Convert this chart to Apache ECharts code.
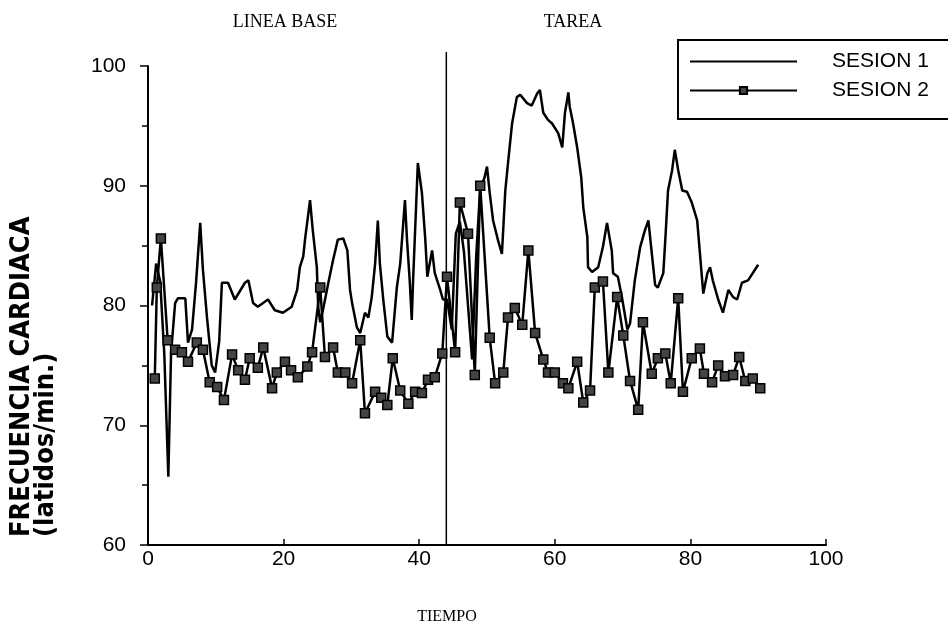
<!DOCTYPE html>
<html>
<head>
<meta charset="utf-8">
<script src="https://cdn.jsdelivr.net/npm/echarts@6/dist/echarts.min.js"></script>
<style>
  html, body { margin: 0; background: #fff; }
  #chart { width: 948px; height: 627px; }
</style>
</head>
<body>
<div id="chart"></div>
<script>
// [tiempo, latidos/min]
const sesion1 = [
  [0.6,80.0],[1.2,83.5],[1.8,82.0],[2.4,76.0],[3.0,65.7],[3.4,76.0],[4.0,80.2],[4.4,80.6],[5.5,80.6],[5.9,76.9],
  [6.5,78.0],[7.1,82.0],[7.7,86.9],[8.1,83.0],[8.7,79.0],[9.4,75.0],[9.9,74.4],[10.5,77.0],[10.9,81.9],[11.8,81.9],
  [12.8,80.5],[14.3,81.9],[14.8,82.1],[15.5,80.2],[16.2,79.9],[17.7,80.5],[18.7,79.6],[19.9,79.4],[21.2,79.9],[22.0,81.3],
  [22.4,83.2],[22.9,84.1],[23.2,85.7],[23.9,88.8],[24.3,86.3],[24.9,83.2],[25.1,79.9],[25.4,78.6],[25.8,79.6],[26.6,81.9],
  [27.3,83.8],[28.0,85.5],[28.8,85.6],[29.4,84.6],[29.8,81.3],[30.1,80.2],[30.8,78.2],[31.3,77.7],[32.0,79.4],[32.5,79.0],
  [33.0,80.7],[33.5,83.5],[33.9,87.1],[34.2,83.5],[34.7,80.5],[35.3,77.4],[36.0,76.9],[36.7,81.5],[37.2,83.5],[37.9,88.8],
  [38.2,85.5],[38.6,82.1],[38.9,78.8],[39.1,82.1],[39.4,86.3],[39.8,91.9],[40.4,89.4],[40.9,85.5],[41.2,82.4],[41.9,84.6],
  [42.3,82.7],[43.1,81.3],[43.5,80.5],[44.1,80.5],[44.8,78.0],[45.4,86.0],[46.0,87.0],[46.6,84.5],[47.2,80.0],[47.8,75.5],
  [48.4,84.0],[49.0,89.9],[49.6,90.6],[50.0,91.6],[50.4,89.4],[50.9,87.1],[51.6,85.5],[52.2,84.3],[52.7,89.6],[53.1,91.9],
  [53.7,95.2],[54.4,97.4],[54.9,97.6],[55.9,96.9],[56.6,96.7],[57.4,97.7],[57.8,98.0],[58.3,96.1],[59.0,95.5],[59.6,95.2],
  [60.5,94.4],[61.1,93.2],[61.5,96.1],[62.0,97.8],[62.2,96.6],[62.7,95.2],[63.3,93.2],[63.9,90.7],[64.2,88.2],[64.8,85.7],
  [64.9,83.2],[65.5,82.8],[66.4,83.2],[67.1,84.9],[67.7,86.9],[68.4,84.6],[68.6,82.7],[69.3,82.4],[69.9,80.7],[70.7,78.0],
  [71.1,78.5],[71.8,82.1],[72.6,84.9],[73.3,86.3],[73.8,87.1],[74.3,84.4],[74.8,81.7],[75.2,81.5],[76.0,82.7],[76.3,85.5],
  [76.7,89.6],[77.3,91.3],[77.7,93.0],[78.2,91.3],[78.8,89.6],[79.5,89.5],[80.2,88.6],[81.0,87.1],[81.4,84.4],[81.9,81.0],
  [82.5,82.7],[82.9,83.2],[83.3,82.1],[84.1,80.5],[84.8,79.4],[85.6,81.3],[86.3,80.7],[86.9,80.5],[87.6,81.9],[88.5,82.1],
  [90.0,83.4]
]
const sesion2 = [
  [1.0,73.9],[1.3,81.5],[1.9,85.6],[2.9,77.1],[4.0,76.3],[5.0,76.1],[5.9,75.3],[7.2,76.9],[8.1,76.3],[9.1,73.6],
  [10.2,73.2],[11.2,72.1],[12.4,75.9],[13.3,74.6],[14.3,73.8],[15.0,75.6],[16.2,74.8],[17.0,76.5],[18.3,73.1],[19.0,74.4],
  [20.2,75.3],[21.1,74.6],[22.1,74.0],[23.5,74.9],[24.2,76.1],[25.4,81.5],[26.1,75.7],[27.3,76.5],[28.0,74.4],[29.1,74.4],
  [30.1,73.5],[31.3,77.1],[32.0,71.0],[33.5,72.8],[34.4,72.3],[35.3,71.7],[36.1,75.6],[37.2,72.9],[38.4,71.8],[39.4,72.8],
  [40.4,72.7],[41.3,73.8],[42.3,74.0],[43.4,76.0],[44.1,82.4],[45.3,76.1],[46.0,88.6],[47.2,86.0],[48.2,74.2],[49.0,90.0],
  [50.4,77.3],[51.2,73.5],[52.4,74.4],[53.1,79.0],[54.1,79.8],[55.2,78.4],[56.1,84.6],[57.1,77.7],[58.3,75.5],[59.0,74.4],
  [60.0,74.4],[61.2,73.5],[62.0,73.1],[63.3,75.3],[64.2,71.9],[65.2,72.9],[65.9,81.5],[67.1,82.0],[67.9,74.4],[69.2,80.7],
  [70.1,77.5],[71.1,73.7],[72.3,71.3],[73.0,78.6],[74.3,74.3],[75.2,75.6],[76.3,76.0],[77.1,73.5],[78.2,80.6],[78.9,72.8],
  [80.2,75.6],[81.4,76.4],[82.0,74.3],[83.2,73.6],[84.1,75.0],[85.1,74.1],[86.3,74.2],[87.2,75.7],[88.1,73.7],[89.2,73.9],
  [90.3,73.1]
]
const seriesNames = ['SESION 1', 'SESION 2']
const sectionLabels = ['LINEA BASE', 'TAREA']
const xName = 'TIEMPO'
const yName = ['FRECUENCIA CARDIACA', '(latidos/min.)']
const divider = 44
const xRange = [0, 100, 20]
const yRange = [60, 100, 10]

const serif = '"Liberation Serif", "DejaVu Serif", serif'
const sans = '"Liberation Sans", Arial, sans-serif'
const titleFont = 'bold 27px "Liberation Sans Narrow", "DejaVu Sans Condensed", sans-serif'

const chart = echarts.init(document.getElementById('chart'))

const axisCommon = {
  axisLine: { lineStyle: { color: '#000', width: 2 } },
  splitLine: { show: false },
  axisLabel: { color: '#000', fontFamily: sans, fontSize: 21 }
}

chart.setOption({
  animation: false,
  backgroundColor: '#fff',
  grid: { left: 148, right: 122, top: 66, bottom: 82, containLabel: false, outerBoundsMode: 'none' },
  xAxis: {
    ...axisCommon,
    type: 'value',
    min: xRange[0], max: xRange[1], interval: xRange[2],
    axisTick: { inside: true, length: 6, lineStyle: { color: '#000', width: 1.5 } },
    axisLabel: { ...axisCommon.axisLabel, margin: 4 }
  },
  yAxis: {
    ...axisCommon,
    type: 'value',
    min: yRange[0], max: yRange[1], interval: yRange[2],
    axisTick: { length: 8, lineStyle: { color: '#000', width: 1.5 } },
    minorTick: { show: true, splitNumber: 2, length: 6, lineStyle: { color: '#000', width: 1.5 } },
    axisLabel: { ...axisCommon.axisLabel, margin: 22 }
  },
  legend: {
    orient: 'vertical',
    left: 689,
    top: 51,
    padding: 0,
    itemWidth: 107,
    itemHeight: 9,
    itemGap: 8,
    data: [
      { name: seriesNames[0], itemStyle: { opacity: 0 } },
      { name: seriesNames[1] }
    ],
    textStyle: { color: '#000', fontFamily: sans, fontSize: 21, padding: [0, 0, 0, 30] }
  },
  series: [
    {
      name: seriesNames[0],
      type: 'line',
      data: sesion1,
      symbol: 'none',
      lineStyle: { color: '#000', width: 2.5 },
      itemStyle: { color: '#000' }
    },
    {
      name: seriesNames[1],
      type: 'line',
      data: sesion2,
      symbol: 'rect',
      symbolSize: 9,
      lineStyle: { color: '#000', width: 2.5 },
      itemStyle: { color: '#444', borderColor: '#000', borderWidth: 1.5 }
    }
  ]
})

// divider line placed through the axes, then the loose labels
const xDiv = chart.convertToPixel({ xAxisIndex: 0 }, divider)
const yBottom = chart.convertToPixel({ yAxisIndex: 0 }, yRange[0])

chart.setOption({
  graphic: [
    {
      type: 'line',
      shape: { x1: xDiv, y1: 52, x2: xDiv, y2: yBottom },
      style: { stroke: '#000', lineWidth: 1.5 }
    },
    {
      type: 'rect',
      shape: { x: 678, y: 40, width: 290, height: 79 },
      style: { fill: 'none', stroke: '#000', lineWidth: 2 }
    },
    {
      type: 'text', x: 285, y: 22,
      style: { text: sectionLabels[0], fill: '#000', font: '18px ' + serif, align: 'center', verticalAlign: 'middle' }
    },
    {
      type: 'text', x: 573, y: 22,
      style: { text: sectionLabels[1], fill: '#000', font: '18px ' + serif, align: 'center', verticalAlign: 'middle' }
    },
    {
      type: 'text', x: 447, y: 617,
      style: { text: xName, fill: '#000', font: '16px ' + serif, align: 'center', verticalAlign: 'middle' }
    },
    {
      type: 'text', x: 22, y: 537, rotation: Math.PI / 2,
      style: { text: yName[0], fill: '#000', font: titleFont, align: 'left', verticalAlign: 'middle' }
    },
    {
      type: 'text', x: 46, y: 537, rotation: Math.PI / 2,
      style: { text: yName[1], fill: '#000', font: titleFont, align: 'left', verticalAlign: 'middle' }
    }
  ]
})
</script>
</body>
</html>
